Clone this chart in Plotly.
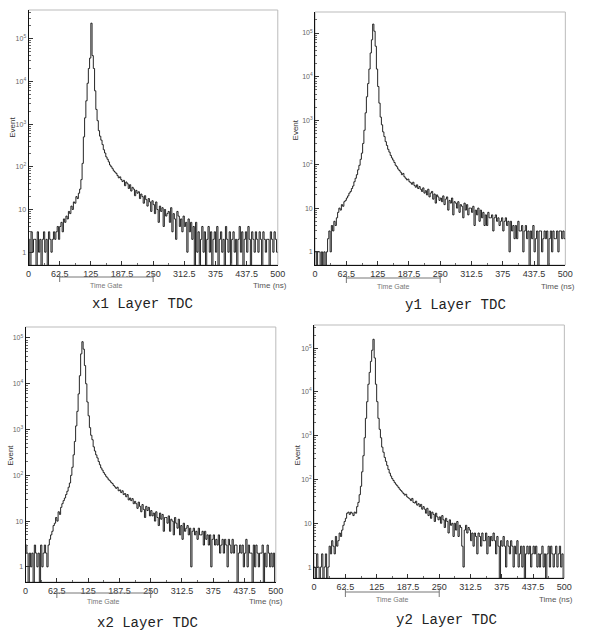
import plotly.graph_objects as go

# ---------------- data ----------------
BIN_WIDTH_NS = 2.5        # histogram bin width, bins start at 0 ns
X_TICKS = [0, 62.5, 125, 187.5, 250, 312.5, 375, 437.5, 500]
X_TICK_LABELS = ["0", "62.5", "125", "187.5", "250", "312.5", "375", "437.5", "500"]
Y_TICKS = [1, 10, 100, 1000, 10000, 100000]
Y_TICK_LABELS = ["1", "10", "10<sup>2</sup>", "10<sup>3</sup>", "10<sup>4</sup>", "10<sup>5</sup>"]
TIME_GATE = [62.5, 250]
TITLES = ["x1 Layer TDC", "y1 Layer TDC", "x2 Layer TDC", "y2 Layer TDC"]

x1_counts = [
    2, 0, 3, 1, 2, 2, 0, 3, 1, 2, 0, 2, 3, 1, 2, 0, 3, 2, 1, 2,       # 0-50
    3, 2, 3, 4, 2,                                                    # 50-62.5
    4, 5, 3, 6, 5, 7, 6, 9, 8, 12, 10, 15, 14, 20, 18,                # 62.5-100
    24, 30, 50, 120, 500, 1400, 3500, 9000, 20000, 35000,             # 100-125
    230000, 40000, 20000, 6000, 2200, 1200, 700, 520, 420, 330,       # 125-150
    250, 210, 170, 150,                                               # 150-160
    130, 110, 100, 90, 80, 75, 70, 62, 55, 58, 50, 45,                # 160-190
    48, 36, 44, 40, 31, 38, 27, 33, 30, 21, 28, 24,                   # 190-220
    26, 18, 23, 20, 14, 21, 17, 12, 18, 15, 9, 16,                    # 220-250
    13, 8, 15, 10, 5, 12, 9, 11, 4, 10, 7, 8,                         # 250-280
    9, 5, 11, 3, 8, 6, 2, 9, 7, 4, 6, 3,                              # 280-310
    7, 4, 5, 1, 6, 3, 5, 2, 4, 0, 5, 1,                               # 310-340
    3, 0, 2, 4, 1, 3, 0, 2, 4, 1, 3, 0,                               # 340-370
    2, 3, 1, 4, 0, 2, 3, 1, 2, 0, 4, 2,                               # 370-400
    1, 3, 0, 2, 3, 1, 2, 0, 2, 4, 1, 3,                               # 400-430
    0, 2, 3, 1, 4, 2, 0, 3, 2, 1, 3, 2,                               # 430-460
    1, 3, 2, 0, 3, 2, 1, 2, 2, 0, 3, 2,                               # 460-490
    1, 3, 2, 1,                                                       # 490-500
]

y1_counts = [
    1, 0, 1, 1, 0, 1, 0, 1, 0, 1,                                     # 0-25
    2, 3, 1, 4, 3, 5, 4, 6,                                           # 25-45
    8, 10, 9, 12, 11, 14,                                             # 45-60
    15, 17, 19, 22, 24, 28, 32, 40,                                   # 60-80
    48, 58, 75, 95, 130, 180, 300, 600,                               # 80-100
    1500, 3500, 7000, 15000, 35000, 70000,                            # 100-115
    160000, 110000, 50000, 15000, 6000, 2500,                         # 115-130
    1200, 800, 550, 430, 330, 270, 220, 190,                          # 130-150
    160, 140, 125, 110,                                               # 150-160
    95, 88, 78, 72, 66, 58, 62, 52, 48, 44, 46, 40,                   # 160-190
    38, 35, 39, 33, 30, 34, 28, 31, 27, 24, 29, 22,                   # 190-220
    25, 20, 27, 18, 22, 24, 16, 21, 13, 20, 18, 15,                   # 220-250
    17, 14, 19, 12, 16, 18, 9, 15, 13, 17, 7, 14,                     # 250-280
    13, 10, 14, 8, 12, 11, 6, 13, 9, 12, 7, 10,                       # 280-310
    10, 8, 11, 4, 9, 7, 10, 5, 9, 6, 8, 4,                            # 310-340
    7, 4, 8, 6, 6, 7, 3, 6, 7, 5, 6, 4,                               # 340-370
    5, 6, 3, 5, 6, 4, 5, 1, 5, 3, 4, 2,                               # 370-400
    4, 2, 5, 3, 3, 4, 1, 3, 4, 2, 3, 0,                               # 400-430
    3, 2, 4, 1, 2, 3, 0, 3, 3, 1, 2, 3,                               # 430-460
    2, 3, 0, 2, 3, 1, 3, 2, 2, 3, 1, 3,                               # 460-490
    3, 2, 3, 2,                                                       # 490-500
]

x2_counts = [
    3, 2, 0, 2,                                                       # 0-10
    1, 2, 0, 3, 2, 1, 2, 0, 3, 1, 2, 3, 2, 1, 3, 4,                   # 10-50
    5, 6, 8, 9, 12, 10, 16, 14, 20, 24, 28, 32,                       # 50-80
    38, 45, 55, 68, 100, 150, 280, 550,                               # 80-100
    1200, 2500, 6000, 15000,                                          # 100-110
    45000, 83000, 57000, 25000, 10000, 4000,                          # 110-125
    2000, 1100, 750, 600, 420, 340, 280, 240, 200, 170,               # 125-150
    145, 130, 115, 105,                                               # 150-160
    95, 88, 80, 76, 70, 66, 60, 56, 52, 55, 46, 48,                   # 160-190
    42, 46, 38, 40, 34, 38, 29, 32, 28, 31, 24, 27,                   # 190-220
    24, 19, 26, 21, 16, 23, 18, 12, 21, 17, 20, 13,                   # 220-250
    17, 13, 15, 10, 16, 12, 8, 15, 11, 14, 6, 12,                     # 250-280
    12, 9, 13, 6, 11, 10, 5, 12, 9, 7, 11, 5,                         # 280-310
    8, 4, 9, 6, 7, 8, 5, 7, 1, 6, 7, 5,                               # 310-340
    6, 4, 7, 5, 5, 6, 3, 6, 4, 5, 3, 5,                               # 340-370
    1, 4, 5, 3, 4, 3, 5, 2, 3, 4, 2, 4,                               # 370-400
    3, 1, 4, 3, 2, 4, 2, 3, 3, 0, 2, 3,                               # 400-430
    2, 3, 1, 2, 4, 1, 3, 2, 2, 0, 3, 1,                               # 430-460
    3, 2, 1, 2, 2, 3, 0, 2, 1, 3, 2, 1,                               # 460-490
    2, 1, 2, 0,                                                       # 490-500
]

y2_counts = [
    1, 0, 2, 1, 0, 1, 2, 0, 1, 2, 0, 1,                               # 0-30
    3, 2, 4, 3, 2, 5, 3, 4, 6, 5,                                     # 30-55
    7, 9, 11, 13,                                                     # 55-65
    17, 18, 16, 18, 17, 15, 18, 17,                                   # 65-85
    24, 30, 45, 70, 150, 350,                                         # 85-100
    900, 2500, 6000, 15000, 28000, 50000,                             # 100-115
    90000, 160000, 60000, 15000, 6000, 2500,                          # 115-130
    1400, 900, 550, 420, 320, 260, 210, 170,                          # 130-150
    140, 120, 105, 95,                                                # 150-160
    85, 78, 72, 66, 60, 56, 52, 48, 44, 46, 40, 38,                   # 160-190
    36, 33, 37, 30, 29, 32, 26, 28, 24, 27, 21, 24,                   # 190-220
    21, 17, 22, 15, 19, 13, 18, 16, 11, 17, 14, 12,                   # 220-250
    14, 10, 15, 12, 8, 13, 11, 6, 12, 9, 10, 5,                       # 250-280
    10, 7, 11, 5, 9, 8, 3, 1, 7, 9, 6, 8,                             # 280-310
    7, 4, 6, 3, 6, 5, 2, 6, 5, 3, 6, 4,                               # 310-340
    4, 6, 2, 5, 3, 5, 4, 6, 4, 2, 5, 3,                               # 340-370
    0, 4, 3, 5, 3, 1, 4, 3, 2, 4, 3, 1,                               # 370-400
    3, 2, 4, 1, 2, 3, 1, 3, 0, 2, 3, 2,                               # 400-430
    3, 1, 2, 3, 2, 3, 1, 2, 1, 2, 3, 1,                               # 430-460
    2, 0, 2, 3, 1, 3, 2, 1, 2, 3, 1, 2,                               # 460-490
    3, 1, 2, 0,                                                       # 490-500
]

ALL_COUNTS = [x1_counts, y1_counts, x2_counts, y2_counts]

# ---------------- layout (pixel boxes of the four plot areas) ----------------
W, H = 591, 634
BOXES = [  # left, right, top, bottom (px)
    (26, 280, 10, 265),
    (318, 573, 12, 265),
    (23, 278, 327, 582),
    (317, 572, 325, 578),
]
Y_RANGES = [(-0.30, 5.67), (-0.30, 5.48), (-0.33, 5.24), (-0.25, 5.53)]
LABELS = [
    dict(ev=(10, 127), br=277, gt=285, tn=(272, 285), ti=(142, 304)),
    dict(ev=(298, 130), br=278, gt=286, tn=(566, 286), ti=(461, 305)),
    dict(ev=(7, 455), br=593, gt=601, tn=(268, 601), ti=(147, 623)),
    dict(ev=(300, 455), br=592, gt=599, tn=(563, 599), ti=(452, 620)),
]


def px_x(p):
    return p / W


def px_y(p):
    return 1 - p / H


fig = go.Figure()
MINOR_Y = [m * 10 ** k for k in range(0, 6) for m in range(2, 10)]
FONT = "Liberation Sans, Arial, sans-serif"

shapes = []
annotations = []
for i, counts in enumerate(ALL_COUNTS):
    n = i + 1
    xa = "x" if n == 1 else f"x{n}"
    ya = "y" if n == 1 else f"y{n}"
    edges = [k * BIN_WIDTH_NS for k in range(len(counts) + 1)]
    shown = [c if c > 0 else 0.1 for c in counts]
    yvals = shown + [shown[-1]]
    fig.add_trace(go.Scatter(
        x=edges, y=yvals, mode="lines", line_shape="hv",
        line=dict(color="#0d0d0d", width=0.9),
        xaxis=xa, yaxis=ya, showlegend=False, hoverinfo="skip",
    ))

    l, r, t, b = BOXES[i]
    fig.layout[f"xaxis{'' if n == 1 else n}"] = dict(
        domain=[px_x(l), px_x(r)], anchor=ya, range=[0, 500],
        tickmode="array", tickvals=X_TICKS, ticktext=X_TICK_LABELS,
        ticks="inside", ticklen=4, tickcolor="#333", tickwidth=1,
        minor=dict(ticks="inside", ticklen=2, tickcolor="#666", dtick=31.25, tick0=0, showgrid=False),
        showline=True, linecolor="#111", linewidth=1,
        showgrid=False, zeroline=False,
        tickfont=dict(family=FONT, size=9, color="#333"), fixedrange=True,
    )
    fig.layout[f"yaxis{'' if n == 1 else n}"] = dict(
        domain=[px_y(b), px_y(t)], anchor=xa, type="log", range=list(Y_RANGES[i]),
        tickmode="array", tickvals=Y_TICKS, ticktext=Y_TICK_LABELS,
        ticks="inside", ticklen=4, tickcolor="#333", tickwidth=1,
        minor=dict(ticks="inside", ticklen=2, tickcolor="#666", tickvals=MINOR_Y, showgrid=False),
        showline=True, linecolor="#111", linewidth=1,
        showgrid=False, zeroline=False,
        tickfont=dict(family=FONT, size=7, color="#666"),
        fixedrange=True,
    )
    shapes.append(dict(type="rect", xref=f"{xa} domain", yref=f"{ya} domain",
                       x0=0, x1=1, y0=0, y1=1, line=dict(color="#bbbbbb", width=1),
                       layer="below"))
    lab = LABELS[i]
    shapes.append(dict(type="line", xref=xa, yref="paper", x0=TIME_GATE[0], x1=TIME_GATE[1],
                       y0=px_y(lab["br"]), y1=px_y(lab["br"]), line=dict(color="#777", width=1)))
    for gx in TIME_GATE:
        shapes.append(dict(type="line", xref=xa, yref="paper", x0=gx, x1=gx,
                           y0=px_y(lab["br"] - 4), y1=px_y(lab["br"] + 5),
                           line=dict(color="#777", width=1)))
    annotations.append(dict(text="Time Gate", xref=xa, yref="paper",
                            x=(TIME_GATE[0] + TIME_GATE[1]) / 2, y=px_y(lab["gt"]),
                            showarrow=False, yanchor="middle",
                            font=dict(family=FONT, size=7, color="#777")))
    annotations.append(dict(text="Time (ns)", xref="paper", yref="paper",
                            x=px_x(lab["tn"][0]), y=px_y(lab["tn"][1]),
                            showarrow=False, yanchor="middle", xanchor="center",
                            font=dict(family=FONT, size=8, color="#555")))
    annotations.append(dict(text="Event", xref="paper", yref="paper",
                            x=px_x(lab["ev"][0]), y=px_y(lab["ev"][1]), textangle=-90,
                            showarrow=False, yanchor="middle", xanchor="center",
                            font=dict(family=FONT, size=8, color="#333")))
    annotations.append(dict(text=TITLES[i], xref="paper", yref="paper",
                            x=px_x(lab["ti"][0]), y=px_y(lab["ti"][1]),
                            showarrow=False, yanchor="middle", xanchor="center",
                            font=dict(family="Liberation Mono, DejaVu Sans Mono, monospace",
                                      size=14, color="#222")))

fig.update_layout(
    width=W, height=H, margin=dict(l=0, r=0, t=0, b=0),
    paper_bgcolor="white", plot_bgcolor="white",
    shapes=shapes, annotations=annotations, showlegend=False,
)

fig.write_html("out.html")
